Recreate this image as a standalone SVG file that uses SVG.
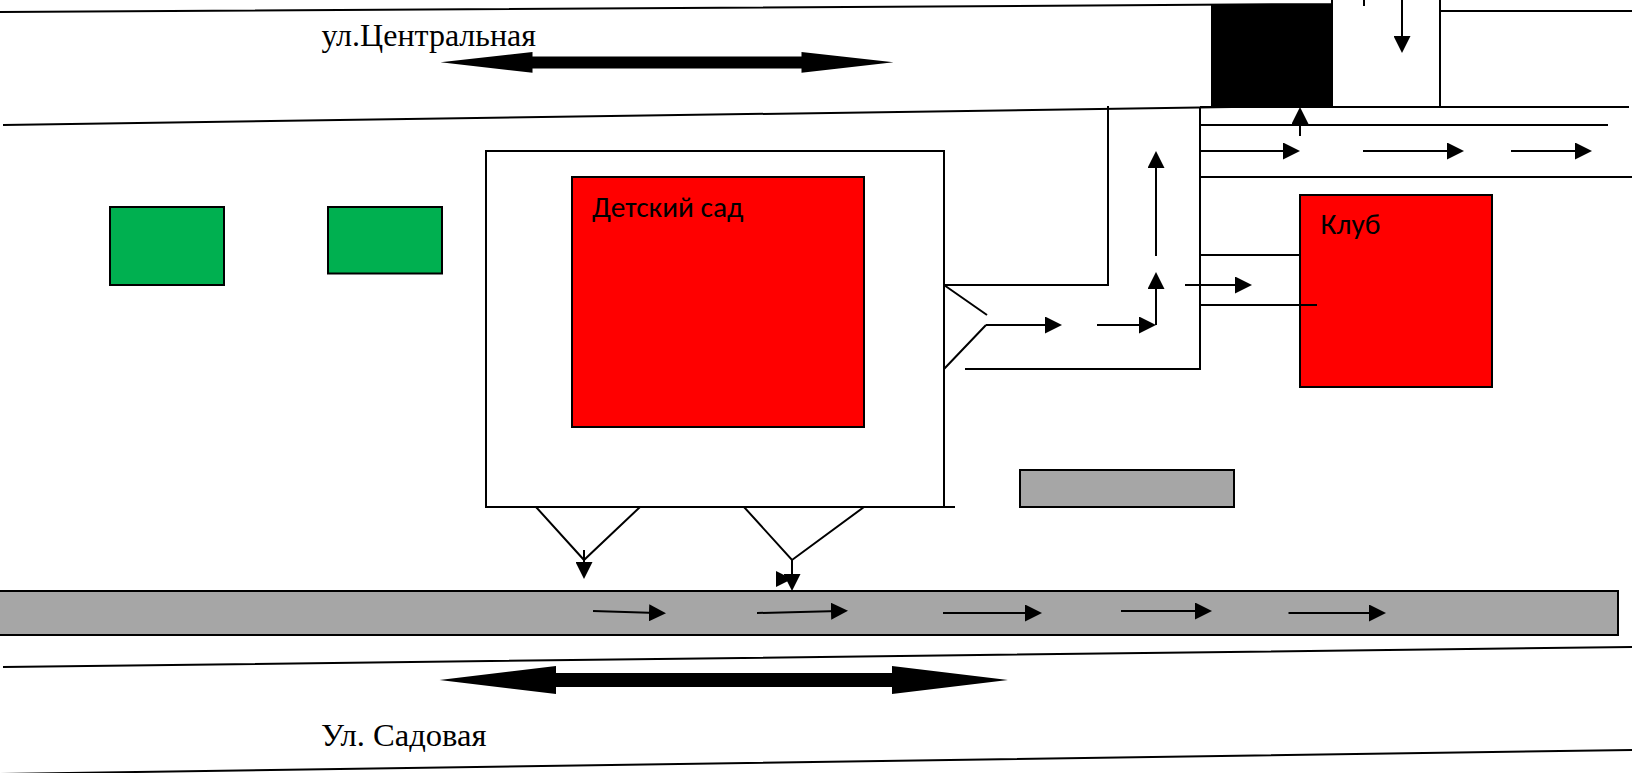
<svg xmlns="http://www.w3.org/2000/svg" width="1632" height="773" viewBox="0 0 1632 773">
<style>
.l{fill:none;stroke:#000;stroke-width:2}
.a{fill:none;stroke:#000;stroke-width:2;marker-end:url(#h)}
.b{fill:#000;stroke:none}
.box{stroke:#000;stroke-width:2}
.red{fill:#f00}.green{fill:#00b050}.gray{fill:#a6a6a6}
.serif{font-family:"Liberation Serif","Times New Roman",serif;font-size:32px;fill:#000}
.sans{font-family:Carlito,Lato,"Open Sans",sans-serif;font-size:29.33px;fill:#000}
</style>
<defs>
<marker id="h" markerUnits="userSpaceOnUse" markerWidth="17" markerHeight="17" refX="8" refY="8.500" orient="auto"><path d="M0 0L17 8.500L0 17Z" fill="#000"/></marker>
</defs>
<rect width="1632" height="773" fill="#fff"/>
<g id="road-lines">
<path class="l" d="M0 12L1332 4M1332 4V0"/>
<path class="l" d="M3 125L1232 107"/>
<path class="l" d="M1200 107H1629M1440 0V107M1440 11H1632M1200 125H1608M1200 177H1632"/>
<path class="l" d="M3 667L1632 647M0 774L1632 750"/>
<path class="l" d="M1108 106V285H944M1200 107V369H965M1200 255H1300"/>
</g>
<g id="black-block"><rect class="b" x="1211" y="4" width="122" height="103"/></g>
<g id="green-1"><rect class="box green" x="110" y="207" width="114" height="78"/></g>
<g id="green-2"><rect class="box green" x="328" y="207" width="114" height="66.500"/></g>
<g id="kindergarten-yard"><rect class="box" fill="#fff" x="486" y="151" width="458" height="356"/><path class="l" d="M944 507H955"/></g>
<g id="kindergarten"><rect class="box red" x="572" y="177" width="292" height="250"/><text class="sans" x="592" y="217">Детский сад</text></g>
<g id="club"><rect class="box red" x="1300" y="195" width="192" height="192"/><text class="sans" x="1320.500" y="234">Клуб</text></g>
<g id="gray-block"><rect class="box gray" x="1020" y="470" width="214" height="37"/></g>
<g id="road"><rect class="box gray" x="-4" y="591" width="1622" height="44"/></g>
<g id="connectors">
<path class="l" d="M1200 305H1317"/>
<path class="l" d="M944 285L987 315M944 369L986 325M536 507L584 560L640 507M744 507L792 560L864 507"/>
<path class="l" d="M1364 0V6"/>
<line class="a" x1="1402" y1="0" x2="1402" y2="44"/>
<line class="a" x1="1300" y1="136" x2="1300" y2="116"/>
<line class="a" x1="1200" y1="151" x2="1291" y2="151"/>
<line class="a" x1="1363" y1="151" x2="1455" y2="151"/>
<line class="a" x1="1511" y1="151" x2="1583" y2="151"/>
<line class="a" x1="1156" y1="256" x2="1156" y2="160"/>
<line class="a" x1="1156" y1="325" x2="1156" y2="281"/>
<line class="a" x1="1185" y1="285" x2="1243" y2="285"/>
<line class="a" x1="986" y1="325" x2="1053" y2="325"/>
<line class="a" x1="1097" y1="325" x2="1147" y2="325"/>
<line class="a" x1="584" y1="550" x2="584" y2="570"/>
<line class="a" x1="792" y1="560" x2="792" y2="582"/>
<path class="b" d="M776 571L792 579L776 587Z"/>
<line class="a" x1="593" y1="611" x2="657" y2="613"/>
<line class="a" x1="757" y1="613" x2="839" y2="611"/>
<line class="a" x1="943" y1="613" x2="1033" y2="613"/>
<line class="a" x1="1121" y1="611" x2="1203" y2="611"/>
<line class="a" x1="1288.500" y1="613" x2="1377" y2="613"/>
<path class="b" d="M440.500 62.300L532.500 52V56.500H801.500V52L893.500 62.300L801.500 72.700V68.500H532.500V72.700Z"/>
<path class="b" d="M439.500 680L556 666V673H892V666L1008 680L892 694V687H556V694Z"/>
</g>
<g id="labels">
<text class="serif" x="321.500" y="46">ул.Центральная</text>
<text class="serif" x="321" y="746" style="font-size:32.600px">Ул. Садовая</text>
</g>
</svg>
